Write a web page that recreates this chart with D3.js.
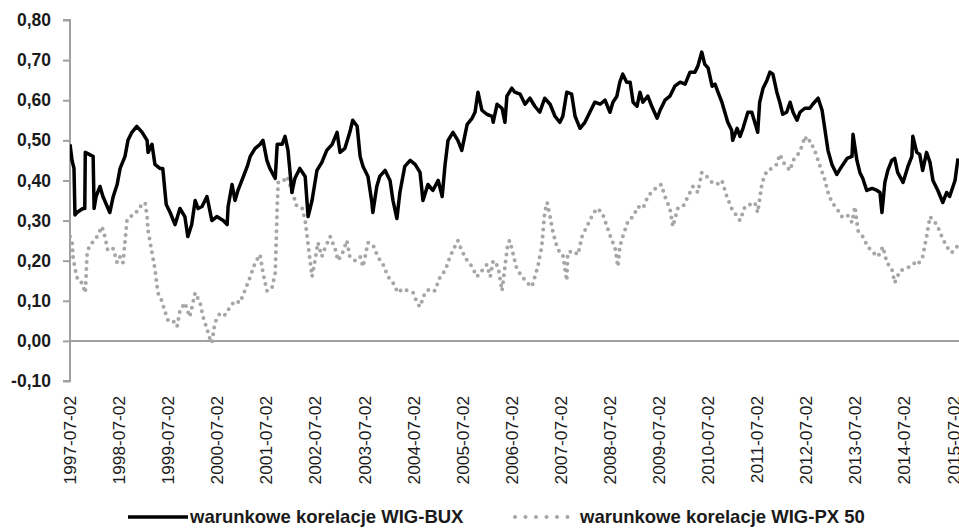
<!DOCTYPE html>
<html>
<head>
<meta charset="utf-8">
<script src="https://cdn.jsdelivr.net/npm/d3@7/dist/d3.min.js"></script>
<style>
  html, body { margin: 0; padding: 0; background: #fff; }
  svg { display: block; }
</style>
</head>
<body>
<svg id="chart" width="959" height="528"></svg>
<script>
// ---- DATA (decimal year, value) ----
const seriesNames = ["warunkowe korelacje WIG-BUX", "warunkowe korelacje WIG-PX 50"];

const wigBux = [
[1997.50,0.49],[1997.54,0.45],[1997.58,0.43],[1997.60,0.314],[1997.64,0.32],[1997.76,0.33],
[1997.80,0.33],[1997.81,0.47],[1997.97,0.46],[1997.99,0.33],[1998.03,0.36],[1998.11,0.385],
[1998.17,0.36],[1998.31,0.32],[1998.38,0.36],[1998.46,0.39],[1998.52,0.43],[1998.62,0.46],
[1998.68,0.50],[1998.76,0.52],[1998.86,0.535],[1998.97,0.52],[1999.07,0.50],[1999.09,0.47],
[1999.17,0.49],[1999.23,0.44],[1999.33,0.43],[1999.39,0.43],[1999.46,0.34],[1999.54,0.32],
[1999.64,0.29],[1999.74,0.33],[1999.84,0.31],[1999.90,0.26],[1999.98,0.29],[2000.05,0.35],
[2000.11,0.33],[2000.19,0.335],[2000.29,0.36],[2000.39,0.30],[2000.49,0.31],[2000.62,0.30],
[2000.70,0.29],[2000.72,0.335],[2000.80,0.39],[2000.86,0.35],[2000.92,0.375],[2001.00,0.40],
[2001.11,0.435],[2001.17,0.46],[2001.27,0.48],[2001.37,0.49],[2001.43,0.50],[2001.51,0.45],
[2001.57,0.43],[2001.68,0.405],[2001.72,0.49],[2001.82,0.49],[2001.88,0.51],[2001.94,0.475],
[2002.02,0.37],[2002.08,0.405],[2002.18,0.43],[2002.29,0.41],[2002.35,0.31],[2002.43,0.35],
[2002.53,0.425],[2002.63,0.445],[2002.73,0.475],[2002.84,0.49],[2002.94,0.52],[2003.00,0.47],
[2003.10,0.48],[2003.20,0.52],[2003.26,0.55],[2003.35,0.535],[2003.41,0.46],[2003.47,0.435],
[2003.57,0.41],[2003.65,0.345],[2003.67,0.32],[2003.75,0.385],[2003.81,0.41],[2003.92,0.425],
[2004.02,0.40],[2004.08,0.35],[2004.16,0.305],[2004.22,0.37],[2004.32,0.435],[2004.43,0.45],
[2004.53,0.44],[2004.63,0.42],[2004.69,0.35],[2004.79,0.39],[2004.89,0.375],[2005.00,0.40],
[2005.08,0.36],[2005.14,0.44],[2005.20,0.50],[2005.30,0.52],[2005.40,0.50],[2005.48,0.475],
[2005.59,0.54],[2005.69,0.555],[2005.75,0.57],[2005.81,0.62],[2005.89,0.575],[2005.99,0.565],
[2006.10,0.56],[2006.12,0.545],[2006.20,0.59],[2006.30,0.58],[2006.36,0.545],[2006.40,0.61],
[2006.50,0.63],[2006.56,0.62],[2006.67,0.615],[2006.77,0.59],[2006.87,0.605],[2006.97,0.585],
[2007.07,0.57],[2007.17,0.605],[2007.28,0.59],[2007.38,0.56],[2007.48,0.545],[2007.54,0.56],
[2007.62,0.62],[2007.72,0.615],[2007.79,0.56],[2007.89,0.53],[2007.99,0.545],[2008.09,0.57],
[2008.19,0.595],[2008.30,0.59],[2008.40,0.60],[2008.50,0.57],[2008.56,0.595],[2008.64,0.61],
[2008.70,0.645],[2008.76,0.665],[2008.84,0.645],[2008.91,0.645],[2008.97,0.595],[2009.05,0.585],
[2009.11,0.62],[2009.17,0.595],[2009.27,0.61],[2009.35,0.585],[2009.46,0.555],[2009.52,0.575],
[2009.62,0.60],[2009.72,0.61],[2009.82,0.635],[2009.93,0.645],[2010.03,0.64],[2010.13,0.67],
[2010.23,0.67],[2010.29,0.685],[2010.37,0.72],[2010.43,0.69],[2010.50,0.68],[2010.58,0.635],
[2010.64,0.64],[2010.70,0.62],[2010.78,0.595],[2010.84,0.57],[2010.90,0.545],[2010.98,0.525],
[2011.00,0.50],[2011.09,0.53],[2011.15,0.51],[2011.21,0.53],[2011.31,0.57],[2011.39,0.57],
[2011.45,0.545],[2011.51,0.52],[2011.55,0.595],[2011.62,0.63],[2011.70,0.65],[2011.76,0.67],
[2011.82,0.665],[2011.90,0.62],[2011.96,0.595],[2012.02,0.565],[2012.10,0.57],[2012.17,0.595],
[2012.23,0.57],[2012.31,0.55],[2012.37,0.57],[2012.47,0.58],[2012.57,0.58],[2012.63,0.59],
[2012.74,0.605],[2012.82,0.575],[2012.88,0.525],[2012.94,0.475],[2013.02,0.44],[2013.12,0.415],
[2013.22,0.435],[2013.33,0.455],[2013.43,0.46],[2013.45,0.515],[2013.53,0.45],[2013.59,0.42],
[2013.65,0.405],[2013.73,0.375],[2013.84,0.38],[2013.94,0.375],[2014.00,0.37],[2014.04,0.32],
[2014.10,0.395],[2014.16,0.425],[2014.24,0.45],[2014.30,0.455],[2014.36,0.42],[2014.47,0.395],
[2014.57,0.435],[2014.65,0.46],[2014.67,0.51],[2014.75,0.47],[2014.81,0.465],[2014.87,0.425],
[2014.95,0.47],[2015.02,0.445],[2015.08,0.40],[2015.18,0.375],[2015.28,0.345],[2015.36,0.37],
[2015.42,0.36],[2015.53,0.40],[2015.59,0.455]
];

const wigPx = [
[1997.50,0.26],[1997.54,0.25],[1997.56,0.21],[1997.60,0.18],[1997.66,0.15],[1997.74,0.145],
[1997.81,0.12],[1997.85,0.225],[1997.95,0.245],[1998.05,0.26],[1998.15,0.285],[1998.21,0.26],
[1998.27,0.225],[1998.38,0.23],[1998.46,0.195],[1998.52,0.21],[1998.58,0.195],[1998.66,0.30],
[1998.72,0.31],[1998.82,0.315],[1998.93,0.335],[1999.03,0.345],[1999.07,0.31],[1999.09,0.275],
[1999.17,0.22],[1999.23,0.18],[1999.29,0.12],[1999.37,0.10],[1999.43,0.075],[1999.50,0.05],
[1999.60,0.05],[1999.68,0.035],[1999.74,0.075],[1999.84,0.095],[1999.94,0.06],[2000.05,0.12],
[2000.15,0.095],[2000.21,0.06],[2000.29,0.03],[2000.35,0.005],[2000.39,-0.005],[2000.45,0.045],
[2000.56,0.07],[2000.66,0.065],[2000.76,0.085],[2000.86,0.10],[2000.96,0.095],[2001.06,0.125],
[2001.17,0.16],[2001.27,0.195],[2001.37,0.215],[2001.43,0.17],[2001.51,0.125],[2001.61,0.13],
[2001.68,0.17],[2001.70,0.25],[2001.72,0.335],[2001.74,0.395],[2001.82,0.395],[2001.92,0.41],
[2002.02,0.375],[2002.12,0.335],[2002.23,0.33],[2002.29,0.30],[2002.33,0.26],[2002.39,0.20],
[2002.43,0.16],[2002.49,0.20],[2002.55,0.245],[2002.63,0.21],[2002.69,0.23],[2002.80,0.26],
[2002.90,0.23],[2002.96,0.20],[2003.04,0.215],[2003.14,0.25],[2003.20,0.21],[2003.31,0.20],
[2003.41,0.21],[2003.47,0.185],[2003.57,0.245],[2003.67,0.24],[2003.77,0.21],[2003.88,0.19],
[2003.98,0.16],[2004.08,0.145],[2004.18,0.12],[2004.28,0.13],[2004.38,0.125],[2004.49,0.12],
[2004.57,0.095],[2004.63,0.085],[2004.73,0.12],[2004.83,0.13],[2004.93,0.125],[2005.04,0.16],
[2005.14,0.175],[2005.24,0.21],[2005.34,0.235],[2005.40,0.25],[2005.48,0.225],[2005.59,0.20],
[2005.69,0.185],[2005.79,0.16],[2005.89,0.175],[2005.99,0.19],[2006.06,0.16],[2006.12,0.20],
[2006.22,0.185],[2006.30,0.125],[2006.36,0.185],[2006.42,0.245],[2006.46,0.25],[2006.52,0.22],
[2006.60,0.18],[2006.71,0.16],[2006.81,0.145],[2006.91,0.135],[2006.97,0.16],[2007.03,0.185],
[2007.11,0.235],[2007.17,0.32],[2007.22,0.345],[2007.28,0.31],[2007.34,0.27],[2007.42,0.235],
[2007.48,0.22],[2007.54,0.215],[2007.62,0.15],[2007.64,0.22],[2007.75,0.225],[2007.85,0.215],
[2007.93,0.26],[2008.03,0.285],[2008.13,0.31],[2008.23,0.33],[2008.34,0.32],[2008.44,0.285],
[2008.54,0.25],[2008.60,0.235],[2008.66,0.185],[2008.70,0.235],[2008.76,0.26],[2008.87,0.30],
[2008.97,0.31],[2009.07,0.335],[2009.17,0.33],[2009.27,0.36],[2009.38,0.375],[2009.48,0.385],
[2009.54,0.39],[2009.62,0.36],[2009.72,0.33],[2009.78,0.285],[2009.88,0.33],[2009.99,0.335],
[2010.09,0.36],[2010.19,0.385],[2010.29,0.37],[2010.37,0.42],[2010.47,0.41],[2010.58,0.395],
[2010.68,0.39],[2010.78,0.40],[2010.88,0.36],[2010.98,0.33],[2011.09,0.31],[2011.15,0.30],
[2011.25,0.335],[2011.35,0.34],[2011.45,0.345],[2011.51,0.32],[2011.60,0.395],[2011.70,0.425],
[2011.80,0.43],[2011.90,0.44],[2011.96,0.465],[2012.06,0.44],[2012.17,0.425],[2012.23,0.45],
[2012.33,0.465],[2012.41,0.485],[2012.47,0.51],[2012.53,0.495],[2012.57,0.50],[2012.67,0.475],
[2012.78,0.435],[2012.88,0.40],[2012.94,0.37],[2013.02,0.345],[2013.12,0.33],[2013.22,0.31],
[2013.33,0.315],[2013.43,0.295],[2013.49,0.335],[2013.55,0.275],[2013.65,0.26],[2013.75,0.235],
[2013.86,0.22],[2013.96,0.21],[2014.06,0.235],[2014.14,0.195],[2014.24,0.18],[2014.30,0.145],
[2014.41,0.175],[2014.51,0.18],[2014.61,0.185],[2014.71,0.195],[2014.77,0.19],[2014.87,0.21],
[2014.95,0.26],[2015.02,0.31],[2015.08,0.30],[2015.16,0.29],[2015.26,0.26],[2015.36,0.235],
[2015.46,0.22],[2015.57,0.235]
];

const xTickLabels = ["1997-07-02","1998-07-02","1999-07-02","2000-07-02","2001-07-02","2002-07-02",
"2003-07-02","2004-07-02","2005-07-02","2006-07-02","2007-07-02","2008-07-02","2009-07-02",
"2010-07-02","2011-07-02","2012-07-02","2013-07-02","2014-07-02","2015-07-02"];
const yTicks = [-0.10,0.00,0.10,0.20,0.30,0.40,0.50,0.60,0.70,0.80];

(function(){
// ---- helpers ----
function yearToDate(t){
  const yr = Math.floor(t);
  const start = new Date(yr,0,1), end = new Date(yr+1,0,1);
  return new Date(start.getTime() + (t - yr) * (end - start));
}
const parse = d3.timeParse("%Y-%m-%d");

// ---- layout ----
const svg = d3.select("#chart");
const mLeft = 70, mRight = 959, mTop = 20, mBottom = 381;

const x = d3.scaleTime()
  .domain([parse("1997-07-02"), parse("2015-08-12")])
  .range([mLeft, mRight]);
const y = d3.scaleLinear().domain([-0.1, 0.8]).range([mBottom, mTop]);

const fmt = v => d3.format(".2f")(v).replace(".", ",").replace("\u2212","-");

svg.append("defs").append("clipPath").attr("id","clip")
  .append("rect").attr("x", mLeft).attr("y", 0).attr("width", mRight-mLeft+2).attr("height", 400);

// y axis
const yAxis = d3.axisLeft(y).tickValues(yTicks).tickSize(7).tickPadding(12).tickFormat(fmt);
const gy = svg.append("g").attr("transform", `translate(${mLeft},0)`).call(yAxis);
gy.select(".domain").attr("stroke", "#a0a0a0").attr("stroke-width", 2)
  .attr("d", `M-7,${y(0.8)}H0V${y(-0.1)}H-7`);
gy.selectAll(".tick line").attr("stroke", "#a0a0a0").attr("stroke-width", 2);
gy.selectAll(".tick text")
  .attr("fill", "#1a1a1a")
  .style("font-family", "'Liberation Sans', Arial, sans-serif")
  .style("font-size", "17.5px").style("font-weight", "bold");

// zero line (category axis)
svg.append("line")
  .attr("x1", mLeft).attr("x2", mRight).attr("y1", y(0)).attr("y2", y(0))
  .attr("stroke", "#a0a0a0").attr("stroke-width", 2);

// x tick labels
const gx = svg.append("g");
gx.selectAll("text").data(xTickLabels).enter().append("text")
  .attr("transform", d => `translate(${x(parse(d))},${396}) rotate(-90)`)
  .attr("text-anchor", "end").attr("dy", "0.35em")
  .attr("fill", "#1a1a1a")
  .style("font-family", "'Liberation Sans', Arial, sans-serif")
  .style("font-size", "17.3px")
  .text(d => d);

// lines
const line = d3.line().x(d => x(yearToDate(d[0]))).y(d => y(d[1]));
const plot = svg.append("g").attr("clip-path", "url(#clip)");

plot.append("path").datum(wigPx)
  .attr("d", line).attr("fill", "none")
  .attr("stroke", "#a6a6a6").attr("stroke-width", 4)
  .attr("stroke-linecap", "round").attr("stroke-dasharray", "0 7");

plot.append("path").datum(wigBux)
  .attr("d", line).attr("fill", "none")
  .attr("stroke", "#000").attr("stroke-width", 3.5)
  .attr("stroke-linejoin", "round");

// legend
const lg = svg.append("g").style("font-family", "'Liberation Sans', Arial, sans-serif")
  .style("font-size", "18.5px").style("font-weight", "bold");
lg.append("line").attr("x1", 128).attr("x2", 188).attr("y1", 517).attr("y2", 517)
  .attr("stroke", "#000").attr("stroke-width", 3.5);
lg.append("text").attr("x", 190).attr("y", 523).attr("fill", "#1a1a1a").text(seriesNames[0]);
lg.append("line").attr("x1", 515).attr("x2", 568).attr("y1", 517).attr("y2", 517)
  .attr("stroke", "#a6a6a6").attr("stroke-width", 4)
  .attr("stroke-linecap", "round").attr("stroke-dasharray", "0 10.5");
lg.append("text").attr("x", 580).attr("y", 523).attr("fill", "#1a1a1a").text(seriesNames[1]);
})();
</script>
</body>
</html>
